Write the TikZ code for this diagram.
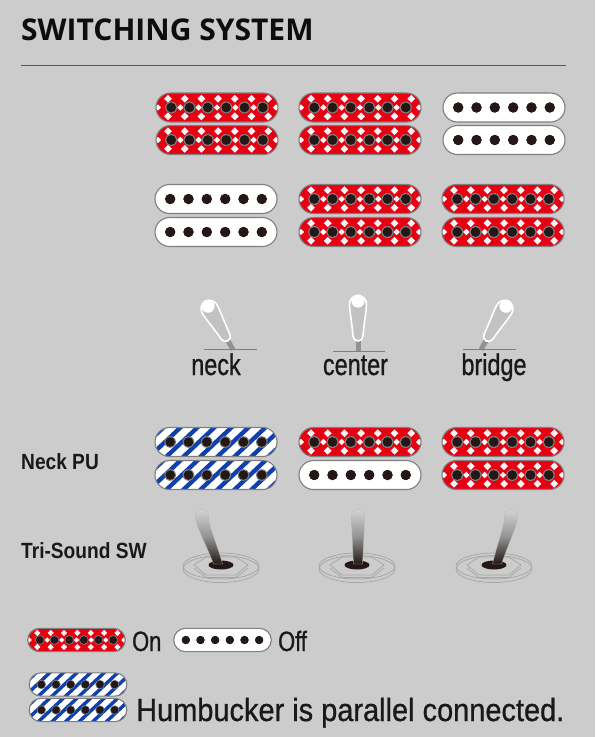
\documentclass[tikz,border=0pt]{standalone}
\usepackage{fontspec}
\setmainfont{Liberation Sans}
\newfontfamily\titlefont{Open Sans}
\newfontfamily\condfont[FakeStretch=0.78,FakeBold=0.8]{Liberation Sans}
\newfontfamily\humfont[FakeStretch=0.905,FakeBold=0.8]{Liberation Sans}
\newfontfamily\sidefont[FakeStretch=0.87]{Liberation Sans}
\definecolor{bgc}{HTML}{CCCCCC}
\definecolor{redc}{HTML}{E60012}
\definecolor{bluec}{HTML}{1040AE}
\definecolor{holec}{HTML}{231815}
\definecolor{edgec}{HTML}{7F7F7F}
\newcommand{\coilbody}[3]{% scale, radius, kind
  \begin{scope}
    \path[clip,rounded corners=#2] (-61,-14.5) rectangle (61,14.5);
    #3
  \end{scope}
  \path[draw=edgec,line width=1.1pt,rounded corners=#2] (-61,-14.5) rectangle (61,14.5);
}
\newcommand{\holes}[3]{% ring colour, ring radius, dot radius
  \foreach \hx in {-45.8,-27.5,-9.2,9.2,27.5,45.8}{
    \fill[#1] (\hx,0) circle (#2);
    \fill[holec] (\hx,0) circle (#3);
  }}
\newcommand{\redcoil}[4][1]{%
  \begin{scope}[shift={(#2,#3)},scale=#1,#4]
    \pgfmathsetlengthmacro{\crad}{14.5pt*#1}
    \coilbody{#1}{\crad}{%
      \fill[redc] (-62,-15) rectangle (62,15);
      \foreach \dx in {-49,-32.3,-15.6,1.1,17.8,34.5,51.2}{
        \foreach \dy in {-8.8,8.8}{
          \fill[white!92!gray] (\dx-3.9,\dy) -- (\dx,\dy-3.9) -- (\dx+3.9,\dy) -- (\dx,\dy+3.9) -- cycle;}}
      \foreach \dx in {-59,-36.6,-18.4,0,18.4,36.6,59}{
        \fill[white!92!gray] (\dx-3.2,0) -- (\dx,-3.2) -- (\dx+3.2,0) -- (\dx,3.2) -- cycle;}
      \holes{edgec}{6}{4.9}}
  \end{scope}}
\newcommand{\offcoil}[4][1]{%
  \begin{scope}[shift={(#2,#3)},scale=#1,#4]
    \pgfmathsetlengthmacro{\crad}{14.5pt*#1}
    \coilbody{#1}{\crad}{%
      \fill[white] (-62,-15) rectangle (62,15);
      \holes{holec}{5.1}{5.1}}
  \end{scope}}
\newcommand{\bluecoil}[4][1]{%
  \begin{scope}[shift={(#2,#3)},scale=#1,#4]
    \pgfmathsetlengthmacro{\crad}{14.5pt*#1}
    \coilbody{#1}{\crad}{%
      \fill[white] (-62,-15) rectangle (62,15);
      \foreach \sx in {-85,-68,...,85}{
        \draw[bluec,line width=4.3pt*#1] (\sx-17,16) -- (\sx+17,-16);}
      \holes{edgec}{5.8}{4.8}}
  \end{scope}}
\newcommand{\lever}[3]{% pivot x, y, angle
  \begin{scope}[shift={(#1,#2)},rotate=#3]
    \fill[edgec!85] (-2.5,0) rectangle (2.5,-11);
    \path[fill=bgc!95!black,draw=white,line width=1.6pt]
      (-5,-15) .. controls (-6,-28) and (-8.5,-40) .. (-8.5,-47)
      arc[start angle=180,end angle=360,radius=8.5]
      .. controls (8.5,-40) and (6,-28) .. (5,-15)
      arc[start angle=0,end angle=180,radius=5];
    \fill[white] (0,-50) circle (6.6);
  \end{scope}}
\newcommand{\trisw}[3]{% base x, lever foot dx, lever top dx
  \begin{scope}[shift={(#1,566)}]
    \draw[edgec!70,line width=.7pt,fill=bgc] (0,3) ellipse (38 and 13.5);
    \draw[edgec!70,line width=.7pt] (0,0) ellipse (38 and 13);
    \draw[edgec!70,line width=.7pt] (-27,-1) -- (-15,-9) -- (15,-9) -- (27,-1) -- (15,9) -- (-15,9) -- cycle;
    \draw[edgec!70,line width=.7pt] (-27,2) -- (-15,11.5) -- (15,11.5) -- (27,2);
    \fill[holec] (0,-1) ellipse (12.5 and 4.5);
    \shade[top color=gray!35,bottom color=holec,middle color=gray!85,draw=gray!55,line width=.3pt]
      (#2-4.5,-2) .. controls ({#2+(#3-#2)*0.45-5.5},-24) and (#3-6.5,-40) .. (#3-6.5,-50)
      arc[start angle=180,end angle=360,radius=6.5]
      .. controls (#3+6.5,-40) and ({#2+(#3-#2)*0.45+5.5},-24) .. (#2+4.5,-2) -- cycle;
  \end{scope}}
\begin{document}
\begin{tikzpicture}[x=1pt,y=-1pt,
  titletext/.style={anchor=west,inner sep=0,font=\titlefont\bfseries\fontsize{30}{30}\selectfont,text=black!95},
  lab/.style={anchor=base west,inner sep=0,font=\condfont\fontsize{28}{28}\selectfont,text=black!90},
  humlab/.style={anchor=base west,inner sep=0,font=\humfont\fontsize{32}{32}\selectfont,text=black!90},
  poslab/.style={anchor=base,inner sep=0,font=\condfont\fontsize{30}{30}\selectfont,text=black!90},
  sidelab/.style={anchor=west,inner sep=0,font=\sidefont\bfseries\fontsize{22}{22}\selectfont,text=black!90},
  baseline rule/.style={draw=edgec,line width=.8pt}]
\useasboundingbox (0,0) rectangle (595,737);
\fill[bgc] (0,0) rectangle (595,737);
\node[titletext] (title) at (21,30) {SWITCHING SYSTEM};
\coordinate (ruleL) at (21,65.5); \coordinate (ruleR) at (566,65.5);
\draw[black!65,line width=.8pt] (ruleL) -- (ruleR);
% row 1
\redcoil{217}{107.5}{} \redcoil{217}{140}{}
\redcoil{360}{107.5}{} \redcoil{360}{140}{}
\offcoil{504}{107.5}{} \offcoil{504}{140}{}
% row 2
\offcoil{216}{199}{} \offcoil{216}{232}{}
\redcoil{360}{199}{} \redcoil{360}{232}{}
\redcoil{503}{199}{} \redcoil{503}{232}{}
% levers
\lever{233}{349.5}{30}
\lever{358}{351}{0}
\lever{481}{349.5}{-30}
\coordinate (l1a) at (204,349.5); \coordinate (l1b) at (257,349.5);
\coordinate (l2a) at (333,351); \coordinate (l2b) at (385,351);
\coordinate (l3a) at (463,349.5); \coordinate (l3b) at (516,349.5);
\draw[baseline rule] (l1a) -- (l1b);
\draw[baseline rule] (l2a) -- (l2b);
\draw[baseline rule] (l3a) -- (l3b);
\node[poslab] (neck) at (216,375) {neck};
\node[poslab] (center) at (355.5,375) {center};
\node[poslab] (bridge) at (494,375) {bridge};
% row 3
\node[sidelab] (neckpu) at (21,462) {Neck PU};
\bluecoil{216}{442}{} \bluecoil{216}{475}{}
\redcoil{360}{442}{} \offcoil{360}{475}{}
\redcoil{503}{442}{} \redcoil{503}{475}{}
% tri-sound
\node[sidelab] (trisound) at (21,551) {Tri-Sound SW};
\trisw{221}{-3}{-19}
\trisw{357}{1}{1}
\trisw{494}{3}{17}
% legend
\redcoil[0.8]{76.5}{640}{}
\node[lab] (on) at (132,651) {On};
\offcoil[0.8]{222.5}{640}{}
\node[lab] (off) at (278,651) {Off};
\bluecoil[0.8]{78}{684.5}{} \bluecoil[0.8]{78}{710}{}
\node[humlab] (hum) at (136,721) {Humbucker is parallel connected.};
\end{tikzpicture}
\end{document}
